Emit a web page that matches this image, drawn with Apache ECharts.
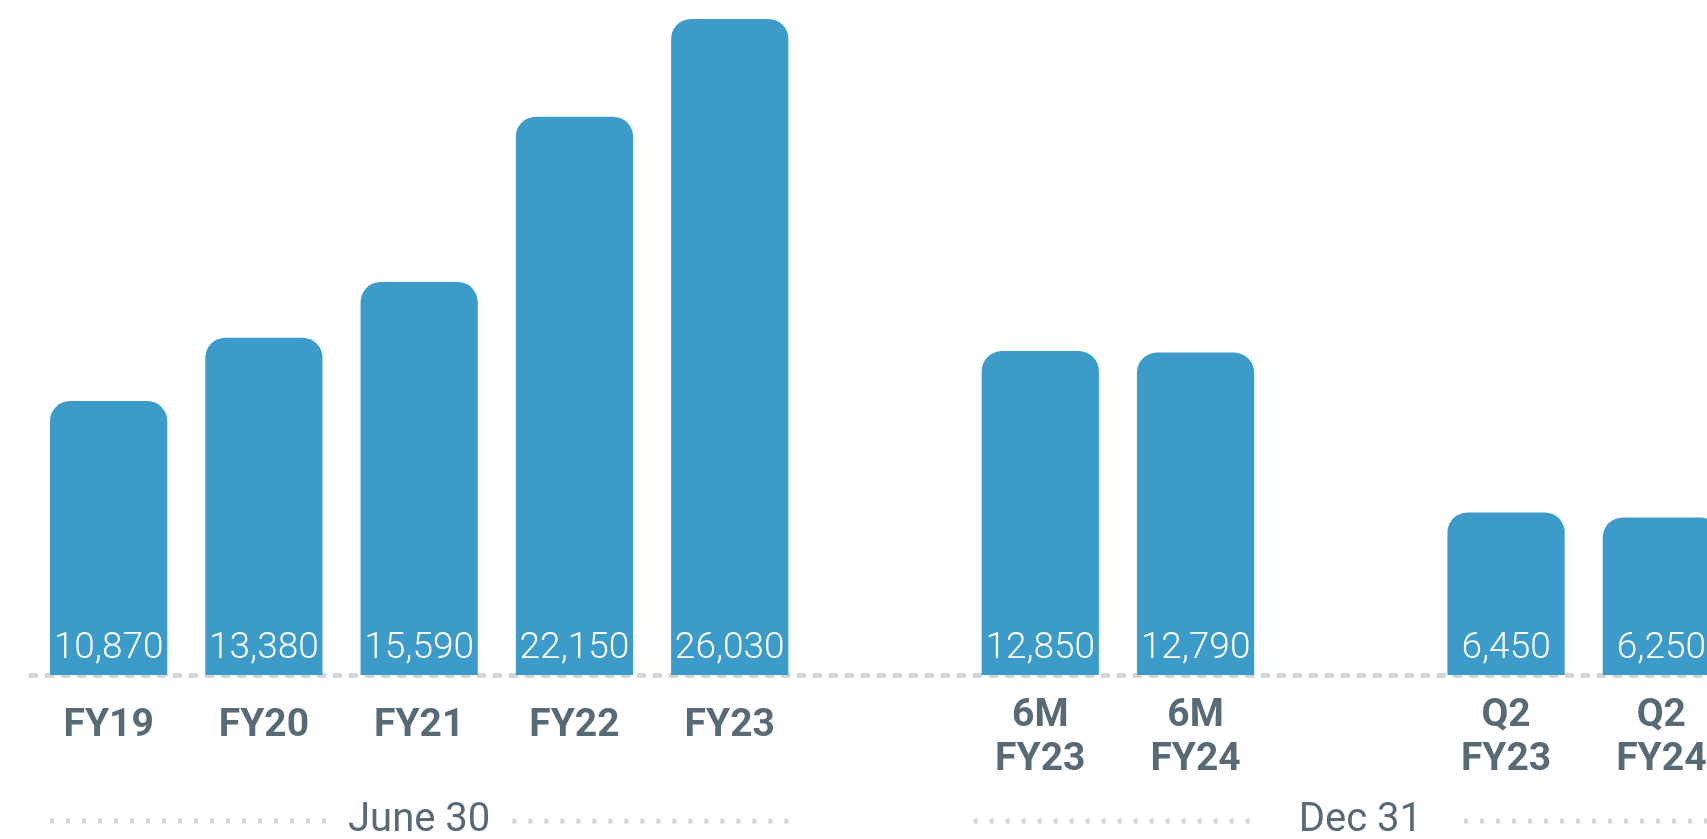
<!DOCTYPE html>
<html><head><meta charset="utf-8">
<script src="https://cdn.jsdelivr.net/npm/echarts@6/dist/echarts.min.js"></script>
<style>html,body{margin:0;padding:0;background:#fff}#c{width:1707px;height:839px}</style>
</head><body><div id="c"></div>
<script>
const categories = ['FY19','FY20','FY21','FY22','FY23',' ','6M\nFY23','6M\nFY24','  ','Q2\nFY23','Q2\nFY24'];
const values = [10870,13380,15590,22150,26030,null,12850,12790,null,6450,6250];
const groupLabels = ['June 30','Dec 31'];
const groupStart = [0,6];
const groupEnd = [4,10];

const BAR = '#3d9bc9', TXT = '#596a77', DOT = '#d2d5d9';
const chart = echarts.init(document.getElementById('c'), null, {renderer:'canvas'});
const xData = categories.map(c => c.includes('\n') ? c : {value:c, textStyle:{lineHeight:64}});
chart.setOption({
  animation:false,
  grid:{left:31, top:0, width:1708, height:675, containLabel:false, outerBoundsMode:'none'},
  xAxis:{type:'category', data:xData,
    axisLine:{show:true, lineStyle:{color:DOT, width:5, type:[5,11]}},
    axisTick:{show:false},
    axisLabel:{interval:0, color:TXT, fontFamily:'Roboto', fontWeight:'bold', fontSize:39,
      lineHeight:44, verticalAlign:'top', margin:19, hideOverlap:false}
  },
  yAxis:{type:'value', min:0, max:26780, show:false, splitLine:{show:false}},
  series:[{type:'bar', data:values, barWidth:'75.5%',
    itemStyle:{color:BAR, borderRadius:[20,20,0,0]},
    label:{show:true, position:'insideBottom', distance:8, color:'#fff', fontFamily:'Roboto', fontWeight:300, fontSize:37,
      formatter:p => p.value == null ? '' : Number(p.value).toLocaleString('en-US')}
  }]
});

(function buildGroups(){
  const axis = chart.getModel().getComponent('xAxis',0).axis;
  const band = axis.getBandWidth();
  const barW = band*0.755;
  const extentEnd = axis.getGlobalExtent()[1];
  const font = '400 40px Roboto';
  const ctx = document.createElement('canvas').getContext('2d');
  ctx.font = font;
  const y = 821;
  const els = [];
  groupLabels.forEach((g,i) => {
    const xs = chart.convertToPixel({xAxisIndex:0}, groupStart[i]);
    const xe = chart.convertToPixel({xAxisIndex:0}, groupEnd[i]);
    const last = groupEnd[i] === categories.length - 1;
    const gap = last ? 42 : 22;
    const left = xs - barW/2 - (last ? 8 : 0), right = last ? extentEnd : xe + barW/2;
    const cx = last ? (xs - barW/2 + extentEnd)/2 : (xs + xe)/2;
    const w = ctx.measureText(g).width;
    els.push({type:'text', x:cx, y:y, style:{text:g, font:font, fill:TXT, align:'center', verticalAlign:'middle'}});
    els.push({type:'line', shape:{x1:left, y1:y, x2:cx - w/2 - gap, y2:y}, style:{stroke:DOT, lineWidth:5, lineDash:[4,12]}});
    els.push({type:'line', shape:{x1:cx + w/2 + gap, y1:y, x2:right, y2:y}, style:{stroke:DOT, lineWidth:5, lineDash:[4,12]}});
  });
  chart.setOption({graphic:els});
})();
</script></body></html>
